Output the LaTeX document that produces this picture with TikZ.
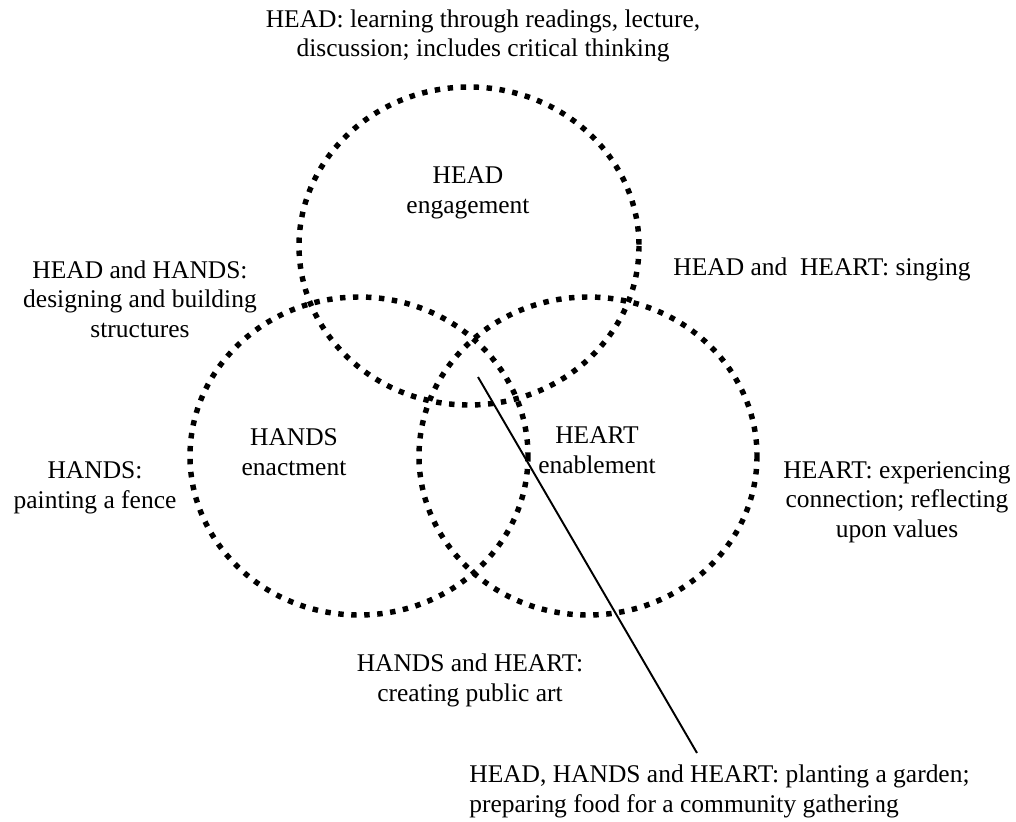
\documentclass[tikz,border=0pt]{standalone}
\usepackage{fontspec}
\setmainfont{Liberation Serif}
\usepackage{tikz}
\usetikzlibrary{positioning}

\begin{document}
\begin{tikzpicture}[x=0.02cm, y=-0.02cm,
    ring/.style={line width=3.1pt, dash pattern=on 3.1pt off 4.3pt},
    lbl/.style={align=center, anchor=base, inner sep=0pt,
                font=\fontsize{14.5}{16.6}\selectfont}]
            \useasboundingbox (0,0) rectangle (1016,821);

            % the three rings
            \draw[ring] (469,246) ellipse [x radius=170, y radius=159];
            \draw[ring] (359,456) ellipse [x radius=169, y radius=159];
            \draw[ring] (588,456) ellipse [x radius=169, y radius=159];

            % inside the rings (base = last line)
            \node[lbl] (head) at (468,213) {HEAD\\engagement};
            \node[lbl] (hands) at (294,475) {HANDS\\enactment};
            \node[lbl] (heart) at (597,473) {HEART\\enablement};

            % round the rings
            \node[lbl] (headtxt) at (483,57) {HEAD: learning through readings, lecture,\\discussion; includes critical thinking};
            \node[lbl] (headhands) at (140,337) {HEAD and HANDS:\\designing and building\\structures};
            \node[lbl] (headheart) at (822,275) {HEAD and\ \ HEART: singing};
            \node[lbl] (handstxt) at (95,508) {HANDS:\\painting a fence};
            \node[lbl] (hearttxt) at (897,537) {HEART: experiencing\\connection; reflecting\\upon values};
            \node[lbl] (handsheart) at (470,701) {HANDS and HEART:\\creating public art};
            \node[lbl, align=left, anchor=base west] (all) at (469,812) {HEAD, HANDS and HEART: planting a garden;\\preparing food for a community gathering};

            % pointer to the middle
            \coordinate (mid) at (478,377);
            \coordinate (tip) at (697,753);
            \draw[line width=1.1pt] (mid) -- (tip);
        \end{tikzpicture}
\end{document}
